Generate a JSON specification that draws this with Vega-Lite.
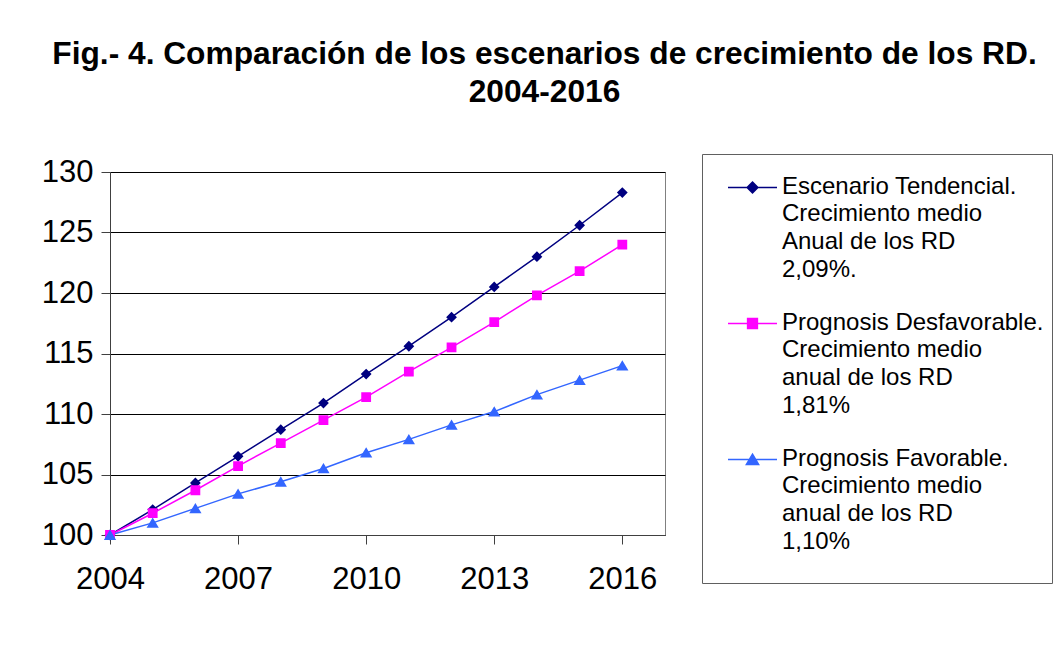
{
  "$schema": "https://vega.github.io/schema/vega-lite/v6.json",
  "width": 555,
  "height": 363,
  "autosize": {"type": "none"},
  "padding": {"left": 110, "top": 172, "right": 388, "bottom": 131},
  "background": "white",
  "title": {
    "text": ["Fig.- 4. Comparación de los escenarios de crecimiento de los RD.", "2004-2016"],
    "font": "Liberation Sans",
    "fontSize": 31.7,
    "fontWeight": "bold",
    "color": "#000000",
    "anchor": "middle",
    "frame": "group",
    "dx": 157,
    "lineHeight": 38,
    "offset": 45
  },
  "config": {
    "font": "Liberation Sans",
    "view": {"stroke": "#808080", "strokeWidth": 1},
    "axis": {
      "labelFont": "Liberation Sans",
      "labelFontSize": 31,
      "labelColor": "#000000",
      "domainColor": "#404040",
      "tickColor": "#404040",
      "gridColor": "#000000",
      "gridOpacity": 1,
      "gridWidth": 1,
      "tickSize": 9,
      "title": null
    }
  },
  "data": {
    "values": [
      {"year": 2004, "serie": "T", "value": 100},
      {"year": 2005, "serie": "T", "value": 102.1},
      {"year": 2006, "serie": "T", "value": 104.3},
      {"year": 2007, "serie": "T", "value": 106.5},
      {"year": 2008, "serie": "T", "value": 108.7},
      {"year": 2009, "serie": "T", "value": 110.9},
      {"year": 2010, "serie": "T", "value": 113.3},
      {"year": 2011, "serie": "T", "value": 115.6},
      {"year": 2012, "serie": "T", "value": 118.0},
      {"year": 2013, "serie": "T", "value": 120.5},
      {"year": 2014, "serie": "T", "value": 123.0},
      {"year": 2015, "serie": "T", "value": 125.6},
      {"year": 2016, "serie": "T", "value": 128.3},
      {"year": 2004, "serie": "D", "value": 100},
      {"year": 2005, "serie": "D", "value": 101.8},
      {"year": 2006, "serie": "D", "value": 103.7},
      {"year": 2007, "serie": "D", "value": 105.7},
      {"year": 2008, "serie": "D", "value": 107.6},
      {"year": 2009, "serie": "D", "value": 109.5},
      {"year": 2010, "serie": "D", "value": 111.4},
      {"year": 2011, "serie": "D", "value": 113.5},
      {"year": 2012, "serie": "D", "value": 115.5},
      {"year": 2013, "serie": "D", "value": 117.6},
      {"year": 2014, "serie": "D", "value": 119.8},
      {"year": 2015, "serie": "D", "value": 121.8},
      {"year": 2016, "serie": "D", "value": 124.0},
      {"year": 2004, "serie": "F", "value": 100},
      {"year": 2005, "serie": "F", "value": 101.0},
      {"year": 2006, "serie": "F", "value": 102.2},
      {"year": 2007, "serie": "F", "value": 103.4},
      {"year": 2008, "serie": "F", "value": 104.4},
      {"year": 2009, "serie": "F", "value": 105.5},
      {"year": 2010, "serie": "F", "value": 106.8},
      {"year": 2011, "serie": "F", "value": 107.9},
      {"year": 2012, "serie": "F", "value": 109.1},
      {"year": 2013, "serie": "F", "value": 110.2},
      {"year": 2014, "serie": "F", "value": 111.6},
      {"year": 2015, "serie": "F", "value": 112.8},
      {"year": 2016, "serie": "F", "value": 114.0}
    ]
  },
  "encoding": {
    "x": {
      "field": "year",
      "type": "quantitative",
      "scale": {"domain": [2004, 2017], "nice": false, "zero": false},
      "axis": {"values": [2004, 2007, 2010, 2013, 2016], "format": "d", "grid": false, "labelPadding": 20, "labelFlush": false}
    },
    "y": {
      "field": "value",
      "type": "quantitative",
      "scale": {"domain": [100, 130], "nice": false, "zero": false},
      "axis": {"values": [100, 105, 110, 115, 120, 125, 130], "grid": true, "labelPadding": 8, "labelFlush": false}
    },
    "color": {
      "field": "serie",
      "type": "nominal",
      "scale": {"domain": ["T", "D", "F"], "range": ["#000080", "#FF00FF", "#3366FF"]},
      "legend": {
        "title": " ",
        "titleOrient": "bottom",
        "titleFontSize": 11,
        "titlePadding": 10,
        "orient": "none",
        "legendX": 592,
        "legendY": -18,
        "direction": "vertical",
        "strokeColor": "#606060",
        "padding": 8,
        "symbolOffset": 17,
        "symbolSize": 2401,
        "symbolStrokeWidth": 1.5,
        "labelFont": "Liberation Sans",
        "labelFontSize": 24,
        "labelColor": "#000000",
        "labelLimit": 400,
        "labelOffset": 4,
        "labelBaseline": "top",
        "rowPadding": 16,
        "labelExpr": "datum.value === 'T' ? ['Escenario Tendencial.', 'Crecimiento medio', 'Anual de los RD', '2,09%.'] : datum.value === 'D' ? ['Prognosis Desfavorable.', 'Crecimiento medio', 'anual de los RD', '1,81%'] : ['Prognosis Favorable.', 'Crecimiento medio', 'anual de los RD', '1,10%']",
        "encode": {
          "labels": {"update": {"lineHeight": {"value": 27.7}, "dy": {"value": -13}}},
          "symbols": {
            "update": {
              "size": {"value": 2401},
              "strokeWidth": {"value": 1.5},
              "opacity": {"value": 1}
            }
          }
        }
      }
    }
  },
  "layer": [
    {
      "mark": {"type": "line", "strokeWidth": 1.5},
      "encoding": {"detail": {"field": "serie"}}
    },
    {
      "mark": {"type": "point", "filled": true, "opacity": 1, "size": 2401, "strokeWidth": 0},
      "encoding": {
        "size": {"value": 2401},
        "shape": {
          "field": "serie",
          "type": "nominal",
          "scale": {
            "domain": ["T", "D", "F"],
            "range": [
              "M-1,0H1M0,-0.22L0.22,0L0,0.22L-0.22,0Z",
              "M-1,0H1M-0.2,-0.2H0.2V0.2H-0.2Z",
              "M-1,0H1M0,-0.22L0.25,0.2H-0.25Z"
            ]
          },
          "legend": null
        }
      }
    }
  ]
}
